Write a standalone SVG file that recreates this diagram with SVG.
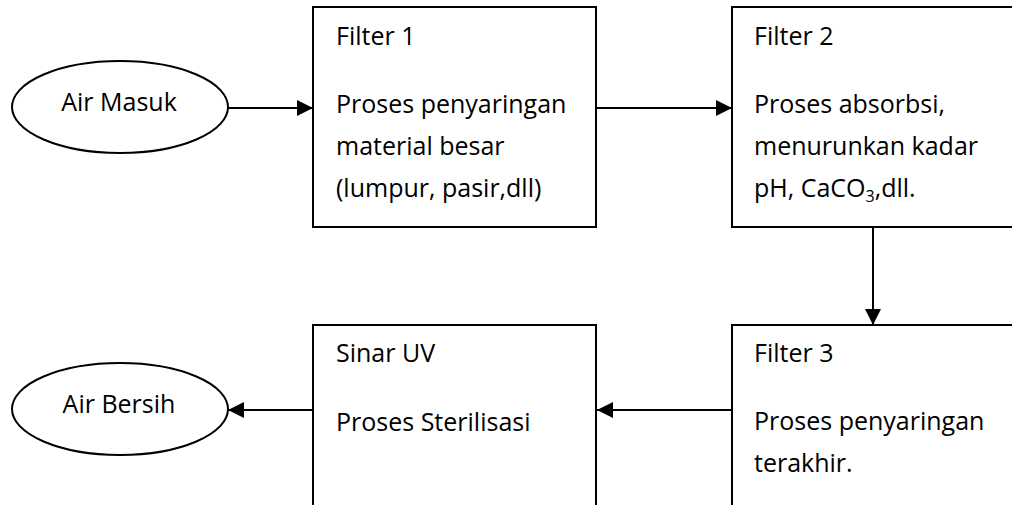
<svg xmlns="http://www.w3.org/2000/svg" width="1012" height="505" viewBox="0 0 1012 505">
<style>
.t{font-family:"Open Sans","Noto Sans","Liberation Sans",sans-serif;font-size:25px;fill:#000}
.c{text-anchor:middle}
.box{fill:#fff;stroke:#000;stroke-width:2}
.edge{stroke:#000;stroke-width:2;fill:none}
</style>
<defs>
<marker id="ah" markerUnits="userSpaceOnUse" markerWidth="16" markerHeight="16" viewBox="0 0 15 15" refX="15" refY="7.5" orient="auto">
<path d="M0,0 L15,7.5 L0,15 z" fill="#000"/>
</marker>
</defs>
<rect width="1012" height="505" fill="#fff"/>
<g id="connectors">
<line class="edge" x1="228" y1="108" x2="313" y2="108" marker-end="url(#ah)"/>
<line class="edge" x1="596" y1="108" x2="732" y2="108" marker-end="url(#ah)"/>
<line class="edge" x1="873" y1="227" x2="873" y2="325" marker-end="url(#ah)"/>
<line class="edge" x1="732" y1="410" x2="597" y2="410" marker-end="url(#ah)"/>
<line class="edge" x1="313" y1="410" x2="228" y2="410" marker-end="url(#ah)"/>
</g>
<g id="air-masuk">
<ellipse class="box" cx="120" cy="107" rx="108" ry="46"/>
<text class="t c" x="119" y="111">Air Masuk</text>
</g>
<g id="filter1">
<rect class="box" x="313" y="7" width="283" height="220"/>
<text class="t" x="336" y="45">Filter 1</text>
<text class="t" x="336" y="113">Proses penyaringan</text>
<text class="t" x="336" y="155">material besar</text>
<text class="t" x="336" y="197">(lumpur, pasir,dll)</text>
</g>
<g id="filter2">
<rect class="box" x="732" y="7" width="300" height="220"/>
<text class="t" x="754" y="45">Filter 2</text>
<text class="t" x="754" y="113">Proses absorbsi,</text>
<text class="t" x="754" y="155">menurunkan kadar</text>
<text class="t" x="754" y="197">pH, CaCO<tspan font-size="16" dy="5">3</tspan><tspan dy="-5">,dll.</tspan></text>
</g>
<g id="filter3">
<rect class="box" x="732" y="325" width="300" height="200"/>
<text class="t" x="754" y="362">Filter 3</text>
<text class="t" x="754" y="430">Proses penyaringan</text>
<text class="t" x="754" y="472">terakhir.</text>
</g>
<g id="sinar-uv">
<rect class="box" x="313" y="325" width="283" height="200"/>
<text class="t" x="336" y="362">Sinar UV</text>
<text class="t" x="336" y="431">Proses Sterilisasi</text>
</g>
<g id="air-bersih">
<ellipse class="box" cx="120" cy="409" rx="108" ry="46"/>
<text class="t c" x="119" y="413">Air Bersih</text>
</g>
</svg>
